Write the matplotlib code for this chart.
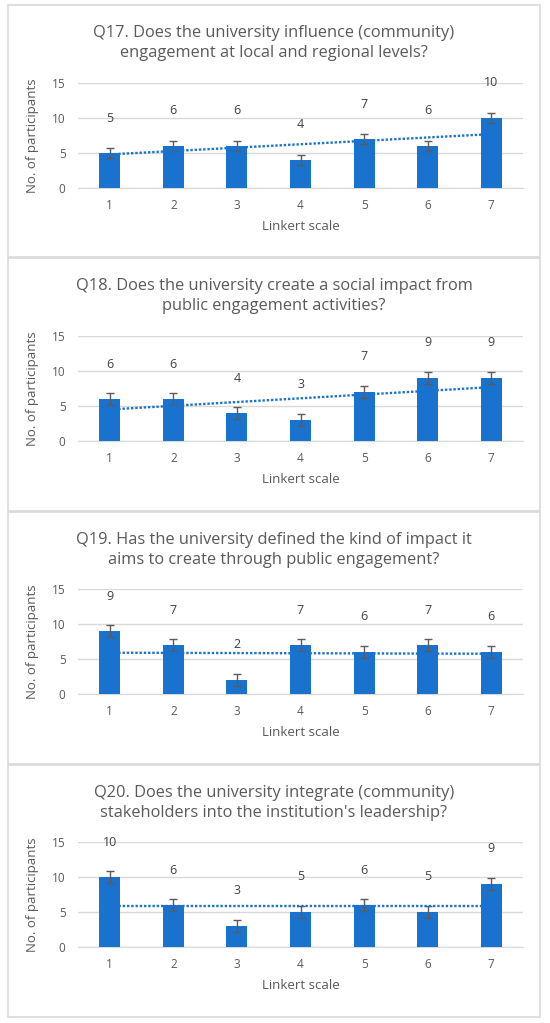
"""
Four Likert-scale survey panels (Q17-Q20): bar counts with error bars,
value labels and a dotted trend line, stacked in one tall figure.
"""

import matplotlib.pyplot as plt
from matplotlib.patches import Rectangle

plt.rcParams["font.family"] = ["Open Sans", "DejaVu Sans"]

W, H = 550, 1023

scale_points = [1, 2, 3, 4, 5, 6, 7]

titles = [
    "Q17. Does the university influence (community)\nengagement at local and regional levels?",
    "Q18. Does the university create a social impact from\npublic engagement activities?",
    "Q19. Has the university defined the kind of impact it\naims to create through public engagement?",
    "Q20. Does the university integrate (community)\nstakeholders into the institution's leadership?",
]

q17_counts = [5, 6, 6, 4, 7, 6, 10]
q18_counts = [6, 6, 4, 3, 7, 9, 9]
q19_counts = [9, 7, 2, 7, 6, 7, 6]
q20_counts = [10, 6, 3, 5, 6, 5, 9]
counts = [q17_counts, q18_counts, q19_counts, q20_counts]

# error bar half-lengths
errors = [0.71, 0.86, 0.81, 0.92]

# trend line end values (at scale 1 and scale 7)
trend_start = [4.8, 4.5, 5.9, 5.9]
trend_end = [7.7, 7.7, 5.75, 5.9]

BLUE = "#1872CE"
TEXT = "#595959"
GRID = "#d9d9d9"

fig = plt.figure(figsize=(W / 100, H / 100), dpi=100)
fig.patch.set_facecolor("white")

frame_tops = [5, 258, 512, 765]
frame_bottoms = [257, 511, 764, 1017]
plot_tops = [83, 336, 589, 842]
plot_h = 105
plot_left, plot_right = 78, 523

for i in range(4):
    # outer panel frame
    y0 = 1 - frame_bottoms[i] / H
    fig.patches.append(
        Rectangle((8 / W, y0), (540 - 8) / W, (frame_bottoms[i] - frame_tops[i]) / H,
                  transform=fig.transFigure, fill=False, edgecolor=GRID, linewidth=1.2)
    )

    ax = fig.add_axes([
        plot_left / W,
        1 - (plot_tops[i] + plot_h) / H,
        (plot_right - plot_left) / W,
        plot_h / H,
    ])
    vals = counts[i]
    ax.bar(scale_points, vals, width=0.33, color=BLUE, zorder=3)
    ax.errorbar(scale_points, vals, yerr=errors[i], fmt="none", ecolor="#5f5a55",
                elinewidth=1.0, capsize=2.9, capthick=1.0, zorder=4)
    ax.plot([scale_points[0], scale_points[-1]], [trend_start[i], trend_end[i]],
            linestyle=(0, (1, 0.8)), color=BLUE, linewidth=1.7, zorder=5)
    for x, v in zip(scale_points, vals):
        ax.text(x, v + 5, str(v), ha="center", va="center", fontsize=9,
                color="#404040", zorder=6)

    ax.set_xlim(0.5, 7.5)
    ax.set_ylim(0, 15)
    ax.set_yticks([0, 5, 10, 15])
    ax.set_xticks(scale_points)
    ax.yaxis.grid(True, color=GRID, linewidth=1.0, zorder=0)
    ax.set_axisbelow(True)
    for side in ["top", "right", "left"]:
        ax.spines[side].set_visible(False)
    ax.spines["bottom"].set_color(GRID)
    ax.tick_params(axis="both", length=0, labelsize=8.5, labelcolor=TEXT)
    ax.tick_params(axis="y", pad=9)
    ax.tick_params(axis="x", pad=8)
    ax.set_xlabel("Linkert scale", fontsize=9.5, color=TEXT, labelpad=6)
    ax.set_ylabel("No. of participants", fontsize=9.5, color=TEXT, labelpad=9)

    fig.text(0.5 * (8 + 540) / W, 1 - (frame_tops[i] + 38) / H, titles[i],
             ha="center", va="center", fontsize=11.8, color=TEXT, linespacing=1.28)

fig.savefig("out.png", dpi=100)
